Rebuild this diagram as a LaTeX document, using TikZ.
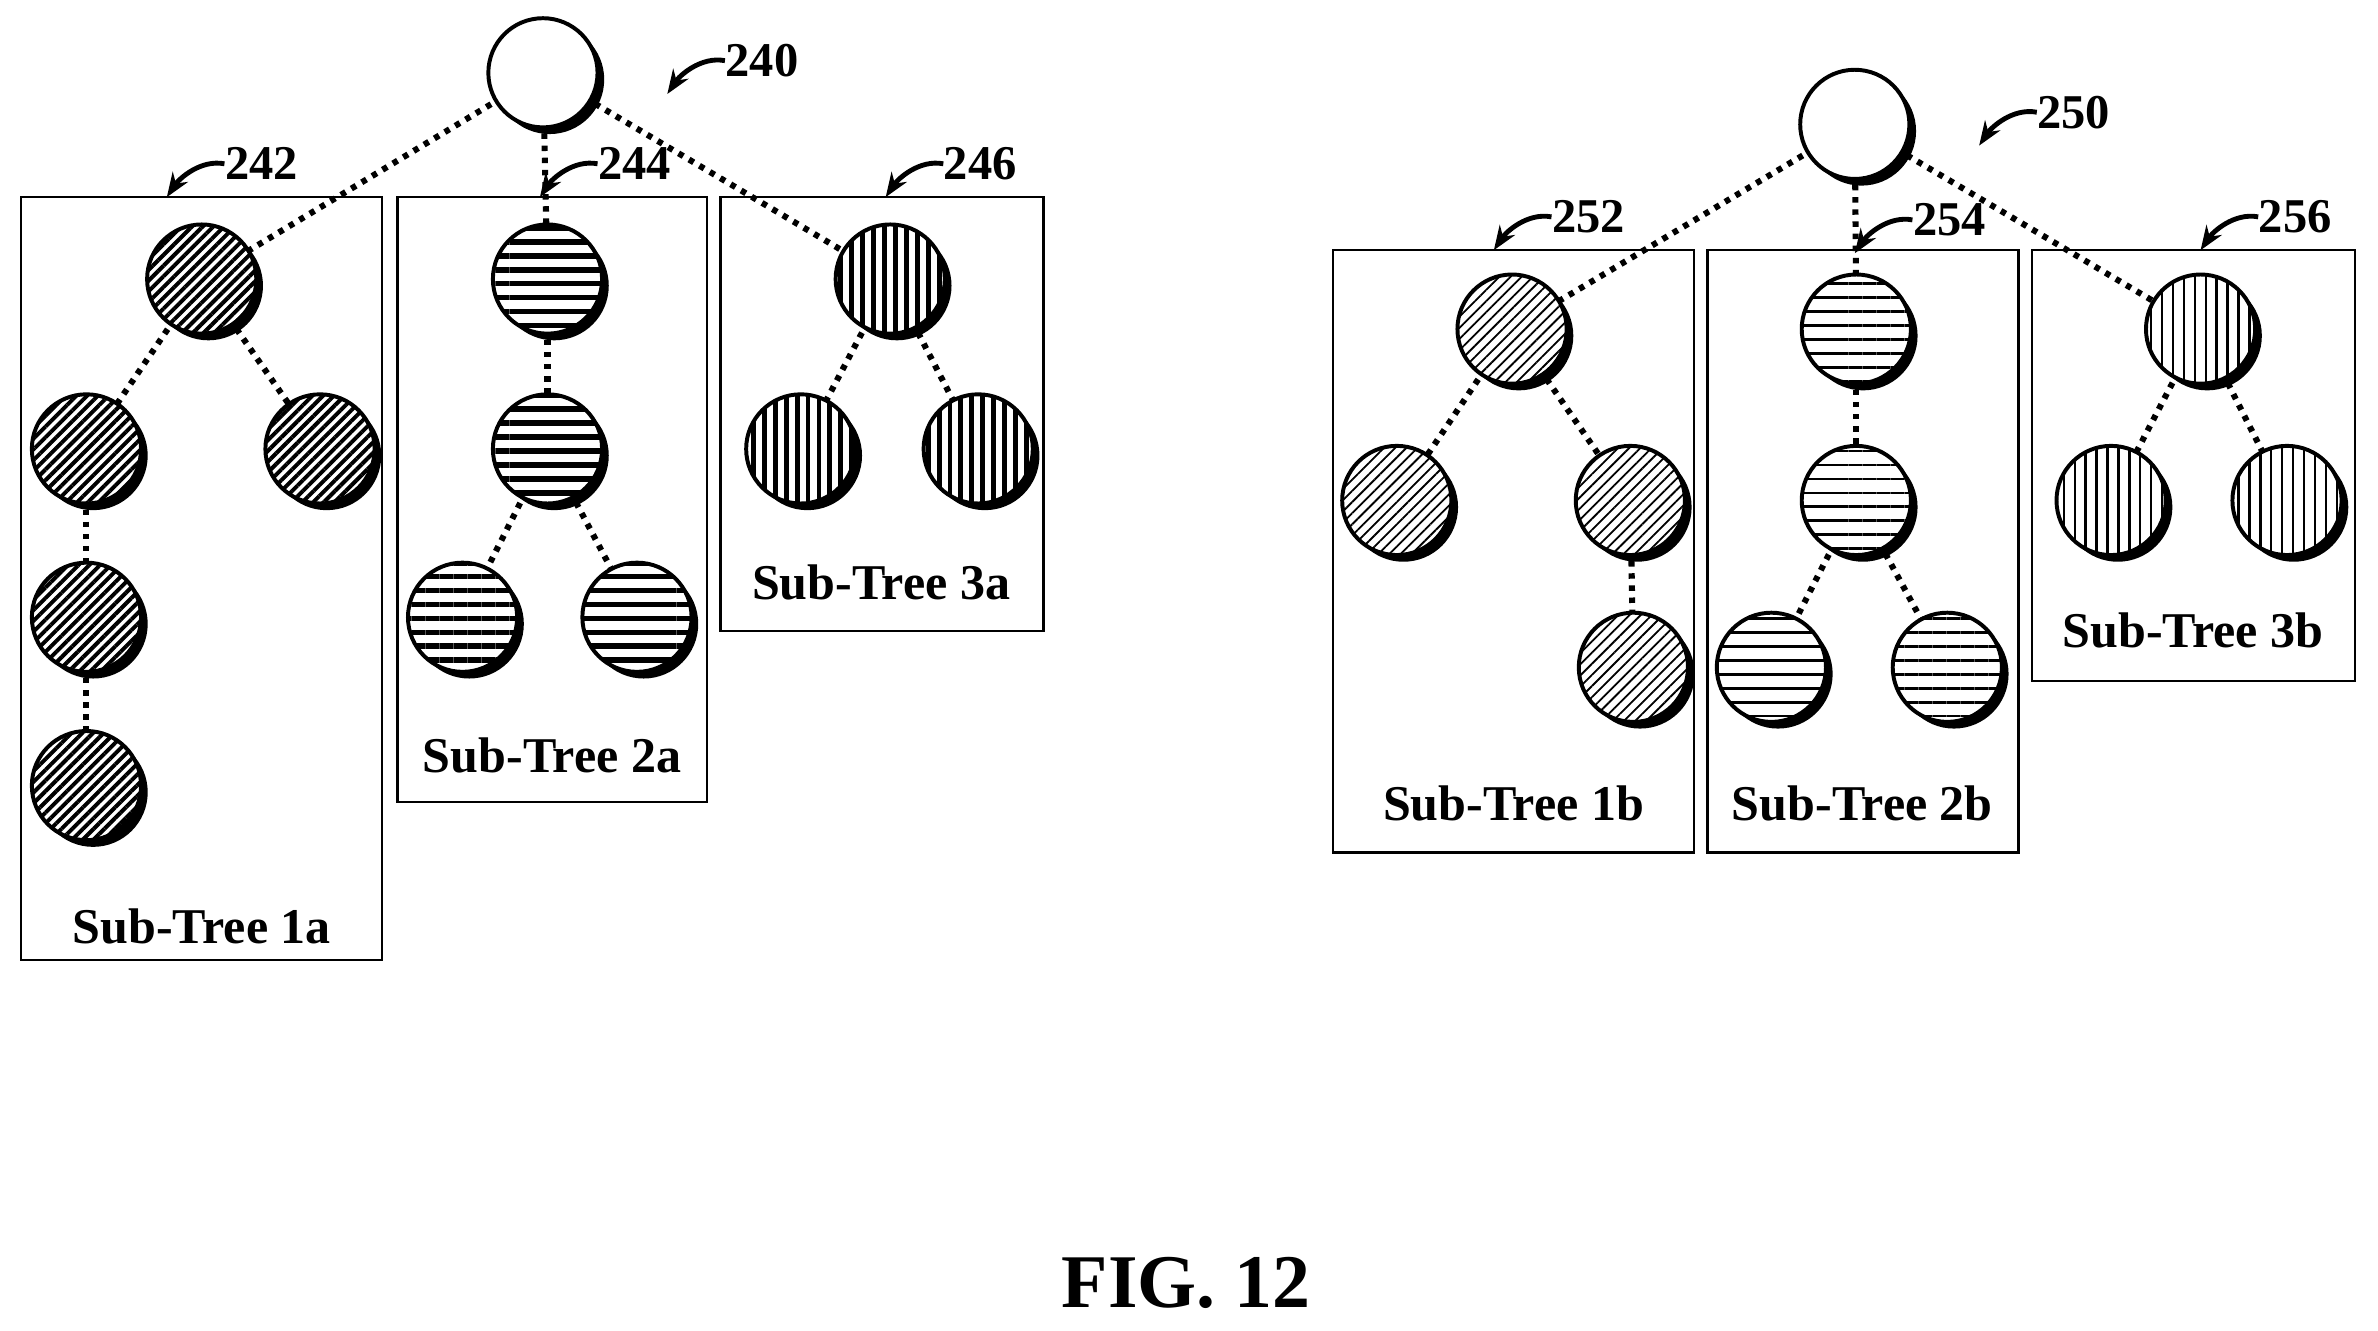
\documentclass[tikz,border=0pt]{standalone}
\usepackage{fontspec}
\setmainfont{Liberation Serif}
\usetikzlibrary{patterns.meta,shadows,arrows.meta}
\begin{document}
\begin{tikzpicture}[x=0.5pt,y=-0.5pt,
 tn/.style={circle,minimum size=36pt,inner sep=0pt,draw,line width=1.3pt,fill=white,
   general shadow={fill=black,shadow xshift=2.2pt,shadow yshift=-2.2pt}},
 pA/.style={postaction={pattern={Lines[angle=45,distance=2.5pt,line width=1.3pt]}}},
 pB/.style={postaction={pattern={Lines[angle=0,distance=4.6pt,line width=1.9pt]}}},
 pC/.style={postaction={pattern={Lines[angle=90,distance=3.6pt,line width=1.6pt]}}},
 pa/.style={postaction={pattern={Lines[angle=45,distance=2.6pt,line width=0.6pt]}}},
 pb/.style={postaction={pattern={Lines[angle=0,distance=4.6pt,line width=0.9pt]}}},
 pc/.style={postaction={pattern={Lines[angle=90,distance=3.6pt,line width=0.8pt]}}},
 dl/.style={line width=2pt,dash pattern=on 1.8pt off 2.2pt},
 bx/.style={draw,line width=0.8pt},
 lab/.style={font=\bfseries\fontsize{16.5}{18}\selectfont},
 num/.style={font=\bfseries\fontsize{16}{18}\selectfont,anchor=west,inner sep=0pt},
 ca/.style={line width=1.6pt,-{Stealth[length=8pt,width=6pt]}}]
\useasboundingbox (0,0) rectangle (1568,877);
% boxes
\draw[bx] (14,130) rectangle (252,633);
\draw[bx] (262,130) rectangle (466,529);
\draw[bx] (475,130) rectangle (688,416);
\draw[bx] (879,165) rectangle (1117,562);
\draw[bx] (1126,165) rectangle (1331,562);
\draw[bx] (1340,165) rectangle (1553,449);
% node positions
\coordinate (R1) at (358,48);
\coordinate (a1) at (133,184); \coordinate (a2) at (57,296); \coordinate (a3) at (211,296);
\coordinate (a4) at (57,407); \coordinate (a5) at (57,518);
\coordinate (b1) at (361,184); \coordinate (b2) at (361,296); \coordinate (b3) at (305,407); \coordinate (b4) at (420,407);
\coordinate (c1) at (587,184); \coordinate (c2) at (528,296); \coordinate (c3) at (645,296);
\coordinate (R2) at (1223,82);
\coordinate (d1) at (997,217); \coordinate (d2) at (921,330); \coordinate (d3) at (1075,330); \coordinate (d4) at (1077,440);
\coordinate (e1) at (1224,217); \coordinate (e2) at (1224,330); \coordinate (e3) at (1168,440); \coordinate (e4) at (1284,440);
\coordinate (f1) at (1451,217); \coordinate (f2) at (1392,330); \coordinate (f3) at (1508,330);
% edges
\foreach \p/\q in {R1/a1,R1/b1,R1/c1,a1/a2,a1/a3,a2/a4,a4/a5,b1/b2,b2/b3,b2/b4,c1/c2,c1/c3,
  R2/d1,R2/e1,R2/f1,d1/d2,d1/d3,d3/d4,e1/e2,e2/e3,e2/e4,f1/f2,f1/f3}
  \draw[dl] (\p) -- (\q);
% nodes
\node[tn] (nR1) at (R1) {};
\node[tn] (nR2) at (R2) {};
\foreach \n in {a1,a2,a3,a4,a5} \node[tn,pA] (n\n) at (\n) {};
\foreach \n in {b1,b2,b3,b4} \node[tn,pB] (n\n) at (\n) {};
\foreach \n in {c1,c2,c3} \node[tn,pC] (n\n) at (\n) {};
\foreach \n in {d1,d2,d3,d4} \node[tn,pa] (n\n) at (\n) {};
\foreach \n in {e1,e2,e3,e4} \node[tn,pb] (n\n) at (\n) {};
\foreach \n in {f1,f2,f3} \node[tn,pc] (n\n) at (\n) {};
% sub-tree labels
\node[lab] (l1a) at (133,611) {Sub-Tree 1a};
\node[lab] (l2a) at (364,498) {Sub-Tree 2a};
\node[lab] (l3a) at (581,384) {Sub-Tree 3a};
\node[lab] (l1b) at (998,530) {Sub-Tree 1b};
\node[lab] (l2b) at (1228,530) {Sub-Tree 2b};
\node[lab] (l3b) at (1446,416) {Sub-Tree 3b};
% reference numbers
\foreach \t/\x/\y in {240/478/40,242/148/108,244/394/108,246/622/108,250/1343/74,252/1023/143,254/1261/145,256/1489/143}{
  \node[num] (r\t) at (\x,\y) {\t};
  \coordinate (t\t) at (\x-38,\y+22);
  \draw[ca] (r\t.west) .. controls +(-16,-3) and +(8,-12) .. (t\t);
}
\node[font=\bfseries\fontsize{25}{28}\selectfont] (fig) at (782,846) {FIG. 12};
\end{tikzpicture}
\end{document}
